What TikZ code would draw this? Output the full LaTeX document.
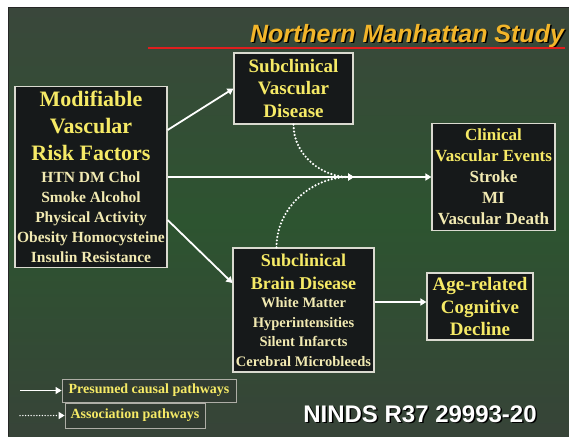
\documentclass[tikz,border=0pt]{standalone}
\usepackage{fontspec}
\setmainfont{Liberation Serif}
\newfontfamily\sansfam{Liberation Sans}
\usetikzlibrary{arrows.meta,calc}
\definecolor{bgtop}{HTML}{3A473B}
\definecolor{bgmid}{HTML}{2D5430}
\definecolor{boxfill}{HTML}{16191A}
\definecolor{boxline}{HTML}{DADAD0}
\definecolor{ttl}{HTML}{F6EA66}
\definecolor{sub}{HTML}{F2EAB2}
\definecolor{gold}{HTML}{F2B52A}
\definecolor{redline}{HTML}{E01E1E}
\begin{document}
\begin{tikzpicture}[x=1pt,y=-1pt,
  box/.style={draw=boxline, line width=1.2pt, fill=boxfill, align=center, inner sep=0pt, text=sub},
  leg/.style={draw=boxline!80!black, line width=0.8pt, fill=bgtop!85!black, align=center, inner sep=0pt, text=ttl, font=\fontsize{14}{16}\selectfont\bfseries},
  causal/.style={draw=white, line width=1.8pt, -{Triangle[width=7pt,length=6pt]}},
  assoc/.style={draw=white, line width=2.4pt, line cap=round, dash pattern=on 0pt off 3.5pt, -{Triangle[width=7pt,length=6pt]}}
]
\useasboundingbox (0,0) rectangle (569,436);
\fill[white] (0,0) rectangle (569,436);
\shade[top color=bgtop, bottom color=bgtop!95!black, middle color=bgmid] (8,8) rectangle (569,436);
\draw[black!85, line width=1pt] (8,436) -- (8,8) -- (569,8);

% title
\node (titleshadow) [font=\sansfam\bfseries\itshape\fontsize{25}{30}\selectfont, text=black, anchor=base] at (408.5,43.5) {Northern Manhattan Study};
\node (title) [font=\sansfam\bfseries\itshape\fontsize{25}{30}\selectfont, text=gold, anchor=base] at (407,42) {Northern Manhattan Study};
\draw[redline, line width=2pt] (148,48) -- (565,48);

% boxes
\node (mvrf) [box, minimum width=152pt, minimum height=181pt, font=\fontsize{15.5}{20}\selectfont\bfseries] at (91,177)
  {\textcolor{ttl}{\fontsize{22}{24}\selectfont Modifiable}\\[7pt]
   \textcolor{ttl}{\fontsize{22}{24}\selectfont Vascular}\\[7pt]
   \textcolor{ttl}{\fontsize{22}{24}\selectfont Risk Factors}\\[2pt]
   HTN DM Chol\\ Smoke Alcohol\\ Physical Activity\\ Obesity Homocysteine\\ Insulin Resistance};

\node (svd) [box, minimum width=119pt, minimum height=71pt, text=ttl, font=\fontsize{19}{22.5}\selectfont\bfseries] at (293.5,88.5)
  {Subclinical\\ Vascular\\ Disease};

\node (cve) [box, minimum width=123pt, minimum height=107pt, font=\fontsize{17}{21}\selectfont\bfseries] at (493.5,177)
  {\textcolor{ttl}{Clinical}\\ \textcolor{ttl}{Vascular Events}\\ Stroke\\ MI\\ Vascular Death};

\node (sbd) [box, minimum width=141pt, minimum height=124pt, font=\fontsize{14.5}{19.5}\selectfont\bfseries] at (303.5,310)
  {\textcolor{ttl}{\fontsize{18}{20}\selectfont Subclinical}\\[3.5pt]
   \textcolor{ttl}{\fontsize{18}{20}\selectfont Brain Disease}\\[-1pt]
   White Matter\\ Hyperintensities\\ Silent Infarcts\\ Cerebral Microbleeds};

\node (age) [box, minimum width=106pt, minimum height=67pt, text=ttl, font=\fontsize{19}{22.5}\selectfont\bfseries] at (480,306.5)
  {Age-related\\ Cognitive\\ Decline};

% causal arrows
\coordinate (m1) at ($(mvrf.east)+(0,-47)$);
\coordinate (m3) at ($(mvrf.east)+(0,43)$);
\coordinate (s1) at ($(sbd.west)+(0,-27)$);
\coordinate (sa) at ($(sbd.east)+(0,-8)$);
\draw[causal] (m1) -- (svd.west);
\draw[causal] (mvrf.east) -- (mvrf.east -| cve.west);
\draw[causal] (m3) -- (s1);
\draw[causal] (sa) -- (sa -| age.west);

% association pathways
\coordinate (merge) at (354,177);
\coordinate (sbdtop) at ($(sbd.north)+(-27,0)$);
\draw[assoc] (svd.south) to[out=-90,in=180] (merge);
\draw[assoc] (sbdtop) to[out=90,in=180] (merge);

% legend
\node (leg1) [leg, minimum width=174pt, minimum height=23pt] at (149,390.5) {Presumed causal pathways};
\node (leg2) [leg, minimum width=140pt, minimum height=25pt] at (135,415.5) {Association pathways};
\coordinate (l1s) at (20,390.5);
\coordinate (l2s) at (20,415.5);
\draw[causal, line width=1.2pt] (l1s) -- (leg1.west);
\draw[assoc, line width=1.5pt, dash pattern=on 0pt off 2.8pt] (l2s) -- (leg2.west);

% grant number
\node (nindsshadow) [font=\sansfam\bfseries\fontsize{24}{28}\selectfont, text=black, anchor=base] at (421.5,423.5) {NINDS R37 29993-20};
\node (ninds) [font=\sansfam\bfseries\fontsize{24}{28}\selectfont, text=white, anchor=base] at (420,422) {NINDS R37 29993-20};
\end{tikzpicture}
\end{document}
